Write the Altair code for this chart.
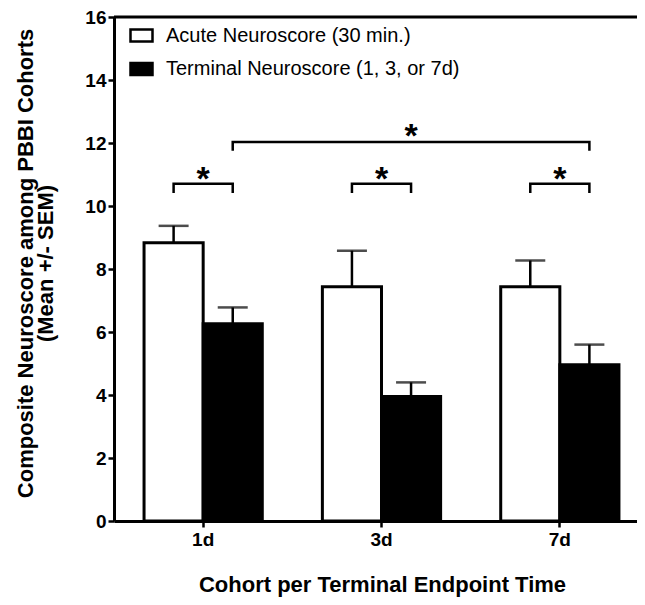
import altair as alt
import pandas as pd

# ---- data ----
cohorts = ["1d", "3d", "7d"]
series = ["Acute Neuroscore (30 min.)", "Terminal Neuroscore (1, 3, or 7d)"]
acute_mean = [8.83, 7.44, 7.44]
acute_sem = [0.54, 1.14, 0.83]
terminal_mean = [6.26, 3.95, 4.96]
terminal_sem = [0.52, 0.45, 0.64]

# significance brackets: from (cohort, series) to (cohort, series)
br_cohort_a = ["1d", "3d", "7d", "1d"]
br_series_a = [series[0], series[0], series[0], series[1]]
br_cohort_b = ["1d", "3d", "7d", "7d"]
br_series_b = [series[1], series[1], series[1], series[1]]
br_level = [10.71, 10.71, 10.71, 12.03]
br_foot = [10.45, 10.45, 10.45, 11.79]
# stars: small ones centred on the cohort, big one at 3d / terminal
small_star_cohort = ["1d", "3d", "7d"]
big_star_cohort = ["3d"]
big_star_series = [series[1]]
star_text = "*"

# ---- tables ----
bars = pd.DataFrame({
    "cohort": cohorts * 2,
    "series": [series[0]] * 3 + [series[1]] * 3,
    "mean": acute_mean + terminal_mean,
    "sem": acute_sem + terminal_sem,
})
bars["upper"] = bars["mean"] + bars["sem"]

rows = []
for i in range(len(br_level)):
    rows += [
        {"b": i, "o": 0, "cohort": br_cohort_a[i], "series": br_series_a[i], "v": br_foot[i]},
        {"b": i, "o": 1, "cohort": br_cohort_a[i], "series": br_series_a[i], "v": br_level[i]},
        {"b": i, "o": 2, "cohort": br_cohort_b[i], "series": br_series_b[i], "v": br_level[i]},
        {"b": i, "o": 3, "cohort": br_cohort_b[i], "series": br_series_b[i], "v": br_foot[i]},
    ]
brackets = pd.DataFrame(rows)
small_stars = pd.DataFrame({"cohort": small_star_cohort, "v": br_level[:3], "t": [star_text] * 3})
big_stars = pd.DataFrame({"cohort": big_star_cohort, "series": big_star_series,
                          "v": br_level[3:], "t": [star_text]})
top_line = pd.DataFrame({"v": [16]})

FONT = "Liberation Sans"
W, H = 523, 504
XR = 535  # the reference plot runs off the right edge of the picture

x_scale = alt.Scale(domain=cohorts, range=[0, XR], paddingInner=0.337, paddingOuter=0.1685)
x_axis = alt.Axis(
    title="Cohort per Terminal Endpoint Time", labelAngle=0, labelFont=FONT,
    labelFontSize=19, labelFontWeight="bold", labelColor="black", labelPadding=3,
    tickSize=6, tickWidth=2.5, tickColor="black", domainWidth=3, domainColor="black",
    titleFont=FONT, titleFontSize=22, titleFontWeight="bold", titleColor="black",
    titlePadding=25, titleX=268, grid=False,
)
y_scale = alt.Scale(domain=[0, 16], nice=False)
y_axis = alt.Axis(
    title=["Composite Neuroscore among PBBI Cohorts", "(Mean +/- SEM)"],
    values=[0, 2, 4, 6, 8, 10, 12, 14, 16], labelFont=FONT, labelFontSize=19,
    labelFontWeight="bold", labelColor="black", labelPadding=2,
    tickSize=6, tickWidth=2.5, tickColor="black", domainWidth=3, domainColor="black",
    titleFont=FONT, titleFontSize=22, titleFontWeight="bold", titleColor="black",
    titleLineHeight=20, titlePadding=27, titleY=246, grid=False,
)
off_scale = alt.Scale(domain=series, paddingInner=0, paddingOuter=0)


def X():
    return alt.X("cohort:N", scale=x_scale, axis=x_axis, sort=cohorts)


def XO():
    return alt.XOffset("series:N", scale=off_scale, sort=series)


def Y(field):
    return alt.Y(f"{field}:Q", scale=y_scale, axis=y_axis)


bar_layer = alt.Chart(bars).mark_bar(stroke="black", strokeWidth=3).encode(
    x=X(), xOffset=XO(), y=Y("mean"),
    fill=alt.Fill("series:N", scale=alt.Scale(domain=series, range=["white", "black"]),
                  legend=alt.Legend(
                      title=None, orient="none", legendX=15, legendY=6, padding=0,
                      symbolType="M-1,-0.55H1V0.55H-1Z", symbolSize=484,
                      symbolStrokeColor="black", symbolStrokeWidth=2.5, symbolOpacity=1,
                      labelFont=FONT, labelFontSize=20, labelColor="black",
                      labelOffset=12, rowPadding=9.5, labelLimit=400,
                  )),
)
err_layer = alt.Chart(bars).mark_rule(color="black", strokeWidth=2.5).encode(
    x=X(), xOffset=XO(), y=Y("mean"), y2="upper:Q",
)
cap_layer = alt.Chart(bars).mark_tick(color="black", thickness=2.5, size=30).encode(
    x=X(), xOffset=XO(), y=Y("upper"),
)
br_layer = alt.Chart(brackets).mark_line(color="black", strokeWidth=2.5,
                                         strokeJoin="miter", strokeCap="square").encode(
    x=X(), xOffset=XO(), y=Y("v"), detail="b:N", order="o:Q",
)
small_star_layer = alt.Chart(small_stars).mark_text(
    font=FONT, fontSize=34, fontWeight="bold", color="black", baseline="alphabetic", dy=6
).encode(x=X(), y=Y("v"), text="t:N")
big_star_layer = alt.Chart(big_stars).mark_text(
    font=FONT, fontSize=34, fontWeight="bold", color="black", baseline="alphabetic", dy=5
).encode(x=X(), xOffset=XO(), y=Y("v"), text="t:N")
top_layer = alt.Chart(top_line).mark_rule(color="black", strokeWidth=3).encode(
    y=Y("v"), x=alt.value(0), x2=alt.value(XR),
)

chart = alt.layer(
    bar_layer, err_layer, cap_layer, br_layer, small_star_layer, big_star_layer, top_layer
).properties(
    width=W, height=H,
    autosize=alt.AutoSizeParams(type="none"),
    padding={"left": 106, "top": 9, "right": 0, "bottom": 80},
    background="white",
).configure_view(stroke=None)

chart.save("out.html", embed_options={"renderer": "svg", "actions": False})
